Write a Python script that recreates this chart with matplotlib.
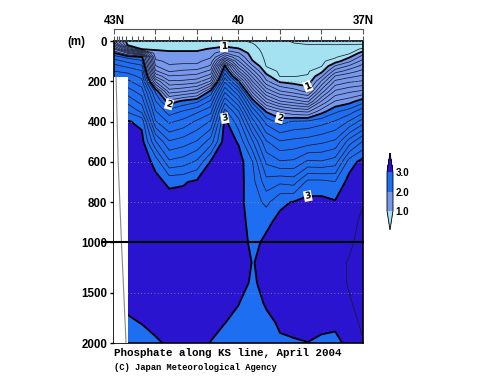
import numpy as np
import matplotlib
matplotlib.use("Agg")
import matplotlib.pyplot as plt
from matplotlib.colors import ListedColormap

# ---------------- data ----------------
lats = [43.0, 42.67, 42.33, 42.0, 41.67, 41.33, 41.0, 40.67, 40.33, 40.0,
        39.67, 39.33, 39.0, 38.67, 38.33, 38.0, 37.67, 37.33, 37.0]
depths = [0, 20, 40, 60, 80, 100, 125, 150, 175, 200, 250, 300, 350, 400,
          500, 600, 700, 800, 900, 1000, 1200, 1400, 1600, 1800, 2000]

# phosphate (umol/kg) profiles, one per station, along `depths`
po4_4300 = [1.30, 1.55, 1.80, 2.02, 2.15, 2.25, 2.33, 2.40, 2.46, 2.52, 2.61, 2.70, 2.78, 2.85, 2.97, 3.02, 3.03, 3.03, 3.03, 3.03, 3.02, 3.01, 3.005, 2.98, 2.96]
po4_4267 = [0.95, 0.99, 1.35, 1.78, 2.07, 2.17, 2.28, 2.37, 2.45, 2.52, 2.65, 2.77, 2.89, 3.01, 3.05, 3.06, 3.06, 3.06, 3.05, 3.05, 3.04, 3.03, 3.015, 2.99, 2.96]
po4_4233 = [0.92, 0.96, 0.99, 1.50, 2.02, 2.12, 2.22, 2.31, 2.37, 2.43, 2.55, 2.66, 2.78, 2.97, 3.04, 3.06, 3.06, 3.06, 3.05, 3.05, 3.04, 3.03, 3.02, 3.002, 2.97]
po4_4200 = [0.92, 0.95, 0.99, 1.03, 1.07, 1.12, 1.21, 1.32, 1.48, 1.69, 2.08, 2.21, 2.31, 2.41, 2.71, 2.97, 3.03, 3.05, 3.05, 3.05, 3.05, 3.04, 3.03, 3.02, 2.99]
po4_4167 = [0.91, 0.93, 0.98, 1.02, 1.05, 1.08, 1.11, 1.19, 1.31, 1.41, 1.65, 1.94, 2.15, 2.28, 2.51, 2.72, 2.98, 3.04, 3.05, 3.05, 3.05, 3.05, 3.05, 3.04, 3.01]
po4_4133 = [0.91, 0.93, 0.98, 1.02, 1.05, 1.08, 1.12, 1.22, 1.32, 1.42, 1.69, 2.03, 2.21, 2.33, 2.55, 2.75, 2.99, 3.04, 3.05, 3.05, 3.05, 3.05, 3.05, 3.04, 3.03]
po4_4100 = [0.91, 0.93, 0.98, 1.02, 1.05, 1.08, 1.12, 1.24, 1.34, 1.45, 1.75, 2.08, 2.28, 2.42, 2.61, 2.82, 3.02, 3.05, 3.05, 3.05, 3.05, 3.05, 3.04, 3.04, 3.03]
po4_4067 = [0.91, 0.95, 1.01, 1.05, 1.09, 1.14, 1.22, 1.33, 1.45, 1.61, 2.03, 2.22, 2.37, 2.51, 2.75, 3.01, 3.04, 3.05, 3.05, 3.05, 3.05, 3.04, 3.03, 3.02, 2.998]
po4_4033 = [0.93, 0.97, 1.05, 1.21, 1.42, 1.69, 2.02, 2.15, 2.27, 2.38, 2.58, 2.77, 2.94, 3.03, 3.06, 3.06, 3.06, 3.06, 3.06, 3.06, 3.06, 3.05, 3.03, 3.001, 2.97]
po4_4000 = [0.91, 0.95, 1.01, 1.11, 1.21, 1.31, 1.45, 1.62, 1.81, 2.01, 2.31, 2.52, 2.71, 2.84, 2.99, 3.05, 3.04, 3.025, 3.035, 3.045, 3.09, 3.03, 3.003, 2.98, 2.96]
po4_3967 = [0.89, 0.91, 0.93, 0.95, 0.97, 1.01, 1.12, 1.25, 1.38, 1.51, 1.78, 2.07, 2.28, 2.45, 2.72, 2.91, 2.94, 2.96, 2.97, 2.98, 2.996, 2.99, 2.965, 2.945, 2.93]
po4_3933 = [0.86, 0.865, 0.87, 0.875, 0.88, 0.885, 0.895, 0.95, 1.04, 1.12, 1.38, 1.68, 1.99, 2.16, 2.41, 2.58, 2.74, 2.87, 2.985, 3.015, 3.02, 3.02, 3.01, 2.98, 2.95]
po4_3900 = [0.82, 0.83, 0.84, 0.85, 0.86, 0.87, 0.88, 0.885, 0.895, 0.98, 1.21, 1.51, 1.88, 2.06, 2.31, 2.51, 2.78, 2.985, 3.02, 3.03, 3.03, 3.03, 3.025, 3.01, 2.99]
po4_3867 = [0.79, 0.81, 0.83, 0.845, 0.855, 0.865, 0.875, 0.885, 0.898, 0.95, 1.15, 1.45, 1.81, 2.11, 2.33, 2.52, 2.76, 3.005, 3.03, 3.03, 3.03, 3.03, 3.03, 3.015, 2.995]
po4_3833 = [0.76, 0.805, 0.82, 0.835, 0.85, 0.86, 0.875, 0.89, 0.905, 0.93, 1.07, 1.38, 1.78, 2.12, 2.35, 2.62, 2.93, 3.03, 3.04, 3.04, 3.04, 3.04, 3.035, 3.02, 2.999]
po4_3800 = [0.75, 0.81, 0.83, 0.85, 0.87, 0.88, 0.895, 0.97, 1.08, 1.21, 1.45, 1.71, 1.96, 2.16, 2.38, 2.61, 2.93, 3.03, 3.04, 3.05, 3.05, 3.05, 3.04, 3.02, 2.985]
po4_3767 = [0.74, 0.805, 0.83, 0.86, 0.885, 0.95, 1.11, 1.25, 1.41, 1.52, 1.72, 1.91, 2.08, 2.21, 2.42, 2.65, 2.905, 3.01, 3.05, 3.06, 3.06, 3.06, 3.05, 3.015, 2.98]
po4_3733 = [0.73, 0.81, 0.85, 0.88, 0.99, 1.08, 1.22, 1.35, 1.47, 1.58, 1.78, 1.96, 2.15, 2.31, 2.65, 2.95, 3.04, 3.06, 3.07, 3.08, 3.11, 3.11, 3.09, 3.06, 3.02]
po4_3700 = [0.72, 0.82, 0.92, 1.06, 1.15, 1.24, 1.34, 1.43, 1.52, 1.61, 1.82, 2.06, 2.27, 2.45, 2.81, 3.04, 3.07, 3.095, 3.12, 3.14, 3.15, 3.15, 3.14, 3.12, 3.095]

# station marks along the top of the section
stations = [43.0, 42.93, 42.87, 42.8, 42.7, 42.57, 42.43, 42.3, 42.0, 41.67,
            41.33, 41.0, 40.67, 40.4, 40.0, 39.67, 39.33, 39.0, 38.67, 38.33,
            38.0, 37.67, 37.33, 37.0]

# sea floor / no-data region near the northern end
nodata_lat = [43.0, 42.67]
nodata_top = 180
bottom_line_lat = [42.95, 42.90, 42.82, 42.71]
bottom_line_dep = [180, 600, 1000, 2000]

thick_levels = [1, 2, 3]
thin_levels = [0.5, 0.6, 0.7, 0.8, 0.9, 1.1, 1.2, 1.3, 1.4, 1.5, 1.6, 1.7,
               1.8, 1.9, 2.1, 2.2, 2.3, 2.4, 2.5, 2.6, 2.7, 2.8, 2.9, 3.1, 3.2]
label_pos = [(40.35, 30), (38.28, 244), (41.67, 313), (39.0, 378),
             (40.35, 363), (38.33, 751)]
ytick_vals = [0, 200, 400, 600, 800, 1000, 1500, 2000]
xtick_vals = [43, 42, 41, 40, 39, 38, 37]
xtick_labs = ["43N", "", "", "40", "", "", "37N"]

# ---------------- figure ----------------
profiles = [po4_4300, po4_4267, po4_4233, po4_4200, po4_4167, po4_4133,
            po4_4100, po4_4067, po4_4033, po4_4000, po4_3967, po4_3933,
            po4_3900, po4_3867, po4_3833, po4_3800, po4_3767, po4_3733,
            po4_3700]
Z = np.array(profiles).T
X, Y = np.meshgrid(lats, depths)

fig = plt.figure(figsize=(5.0, 3.87), dpi=100)
W, H = 500.0, 387.0
ax = fig.add_axes([114 / W, 1 - 343 / H, 249 / W, 302 / H])


def fwd(d):
    d = np.asarray(d, dtype=float)
    return np.where(d <= 1000, d, 1000 + (d - 1000) * 0.5)


def inv(y):
    y = np.asarray(y, dtype=float)
    return np.where(y <= 1000, y, 1000 + (y - 1000) * 2.0)


ax.set_yscale("function", functions=(fwd, inv))

c_lt1 = "#a4e2f2"
c_12 = "#7898ec"
c_23 = "#1e6ef2"
c_gt3 = "#2a14d0"
cmap = ListedColormap([c_12, c_23])
cmap.set_under(c_lt1)
cmap.set_over(c_gt3)

cf = ax.contourf(X, Y, Z, levels=thick_levels, cmap=cmap, extend="both")
ax.contour(X, Y, Z, levels=thin_levels, colors="#1a1a2a", linewidths=0.55)
cs = ax.contour(X, Y, Z, levels=thick_levels, colors="k", linewidths=1.3)
labels = ax.clabel(cs, fmt="%d", fontsize=6.5, inline=True,
                   manual=label_pos, inline_spacing=1)
for t in labels:
    t.set_fontweight("bold")
    t.set_bbox(dict(facecolor="white", edgecolor="none", pad=0.6))

ax.fill_between(nodata_lat, nodata_top, 2000, color="white", zorder=3,
                linewidth=0)
ax.plot(bottom_line_lat, bottom_line_dep, color="#888888", lw=0.8, zorder=4)

ax.set_xlim(43, 37)
ax.set_ylim(2000, 0)

ax.set_yticks(ytick_vals)
ax.set_yticklabels([str(v) for v in ytick_vals])
ax.yaxis.set_minor_locator(matplotlib.ticker.NullLocator())
ax.tick_params(axis="y", direction="out", length=3, width=1, pad=2,
               labelsize=8.3)
for lab in ax.get_yticklabels():
    lab.set_fontfamily("Liberation Sans")
    lab.set_fontweight("bold")
ax.yaxis.grid(True, linestyle=(0, (1, 3)), color="#8090a0", lw=0.6)
ax.set_axisbelow(False)

ax.set_xticks(stations)
ax.tick_params(axis="x", which="both", top=True, bottom=False,
               labelbottom=False, labeltop=False, direction="out",
               length=3.5, width=0.8, color="#555555")
for s in ax.spines.values():
    s.set_linewidth(1.2)

ax.axhline(1000, xmin=-0.045, xmax=1, clip_on=False, color="k", lw=1.5,
           zorder=5)

# top latitude axis
axt = fig.add_axes([114 / W, 1 - 33 / H, 249 / W, 4 / H])
axt.set_xlim(43, 37)
axt.set_yticks([])
axt.patch.set_visible(False)
for k in ["left", "right", "bottom"]:
    axt.spines[k].set_visible(False)
axt.spines["top"].set_color("#555555")
axt.spines["top"].set_linewidth(0.8)
axt.set_xticks(xtick_vals)
axt.set_xticklabels(xtick_labs)
axt.tick_params(axis="x", top=True, bottom=False, labeltop=True,
                labelbottom=False, direction="in", length=3.5, width=0.8,
                color="#555555", pad=1.5, labelsize=8.3)
for lab in axt.get_xticklabels():
    lab.set_fontfamily("Liberation Sans")
    lab.set_fontweight("bold")

fig.text(76 / W, 1 - 42 / H, "(m)", ha="center", va="center", fontsize=8.3,
         family="Liberation Sans", weight="bold")

# colour bar
cax = fig.add_axes([387 / W, 1 - 230 / H, 6 / W, 77 / H])
cb = fig.colorbar(cf, cax=cax, extend="both", extendfrac=0.5,
                  ticks=thick_levels)
cb.ax.set_yticklabels(["1.0", "2.0", "3.0"])
cb.ax.tick_params(length=0, labelsize=7.0, pad=2)
for lab in cb.ax.get_yticklabels():
    lab.set_fontfamily("Liberation Sans")
    lab.set_fontweight("bold")
cb.outline.set_linewidth(0.6)

fig.text(114 / W, 1 - 353 / H, "Phosphate along KS line, April 2004",
         ha="left", va="center", fontsize=7.8, family="Liberation Mono",
         weight="bold")
fig.text(114 / W, 1 - 367 / H, "(C) Japan Meteorological Agency",
         ha="left", va="center", fontsize=6.3, family="Liberation Mono",
         weight="bold")

fig.savefig("out.png", dpi=100)
